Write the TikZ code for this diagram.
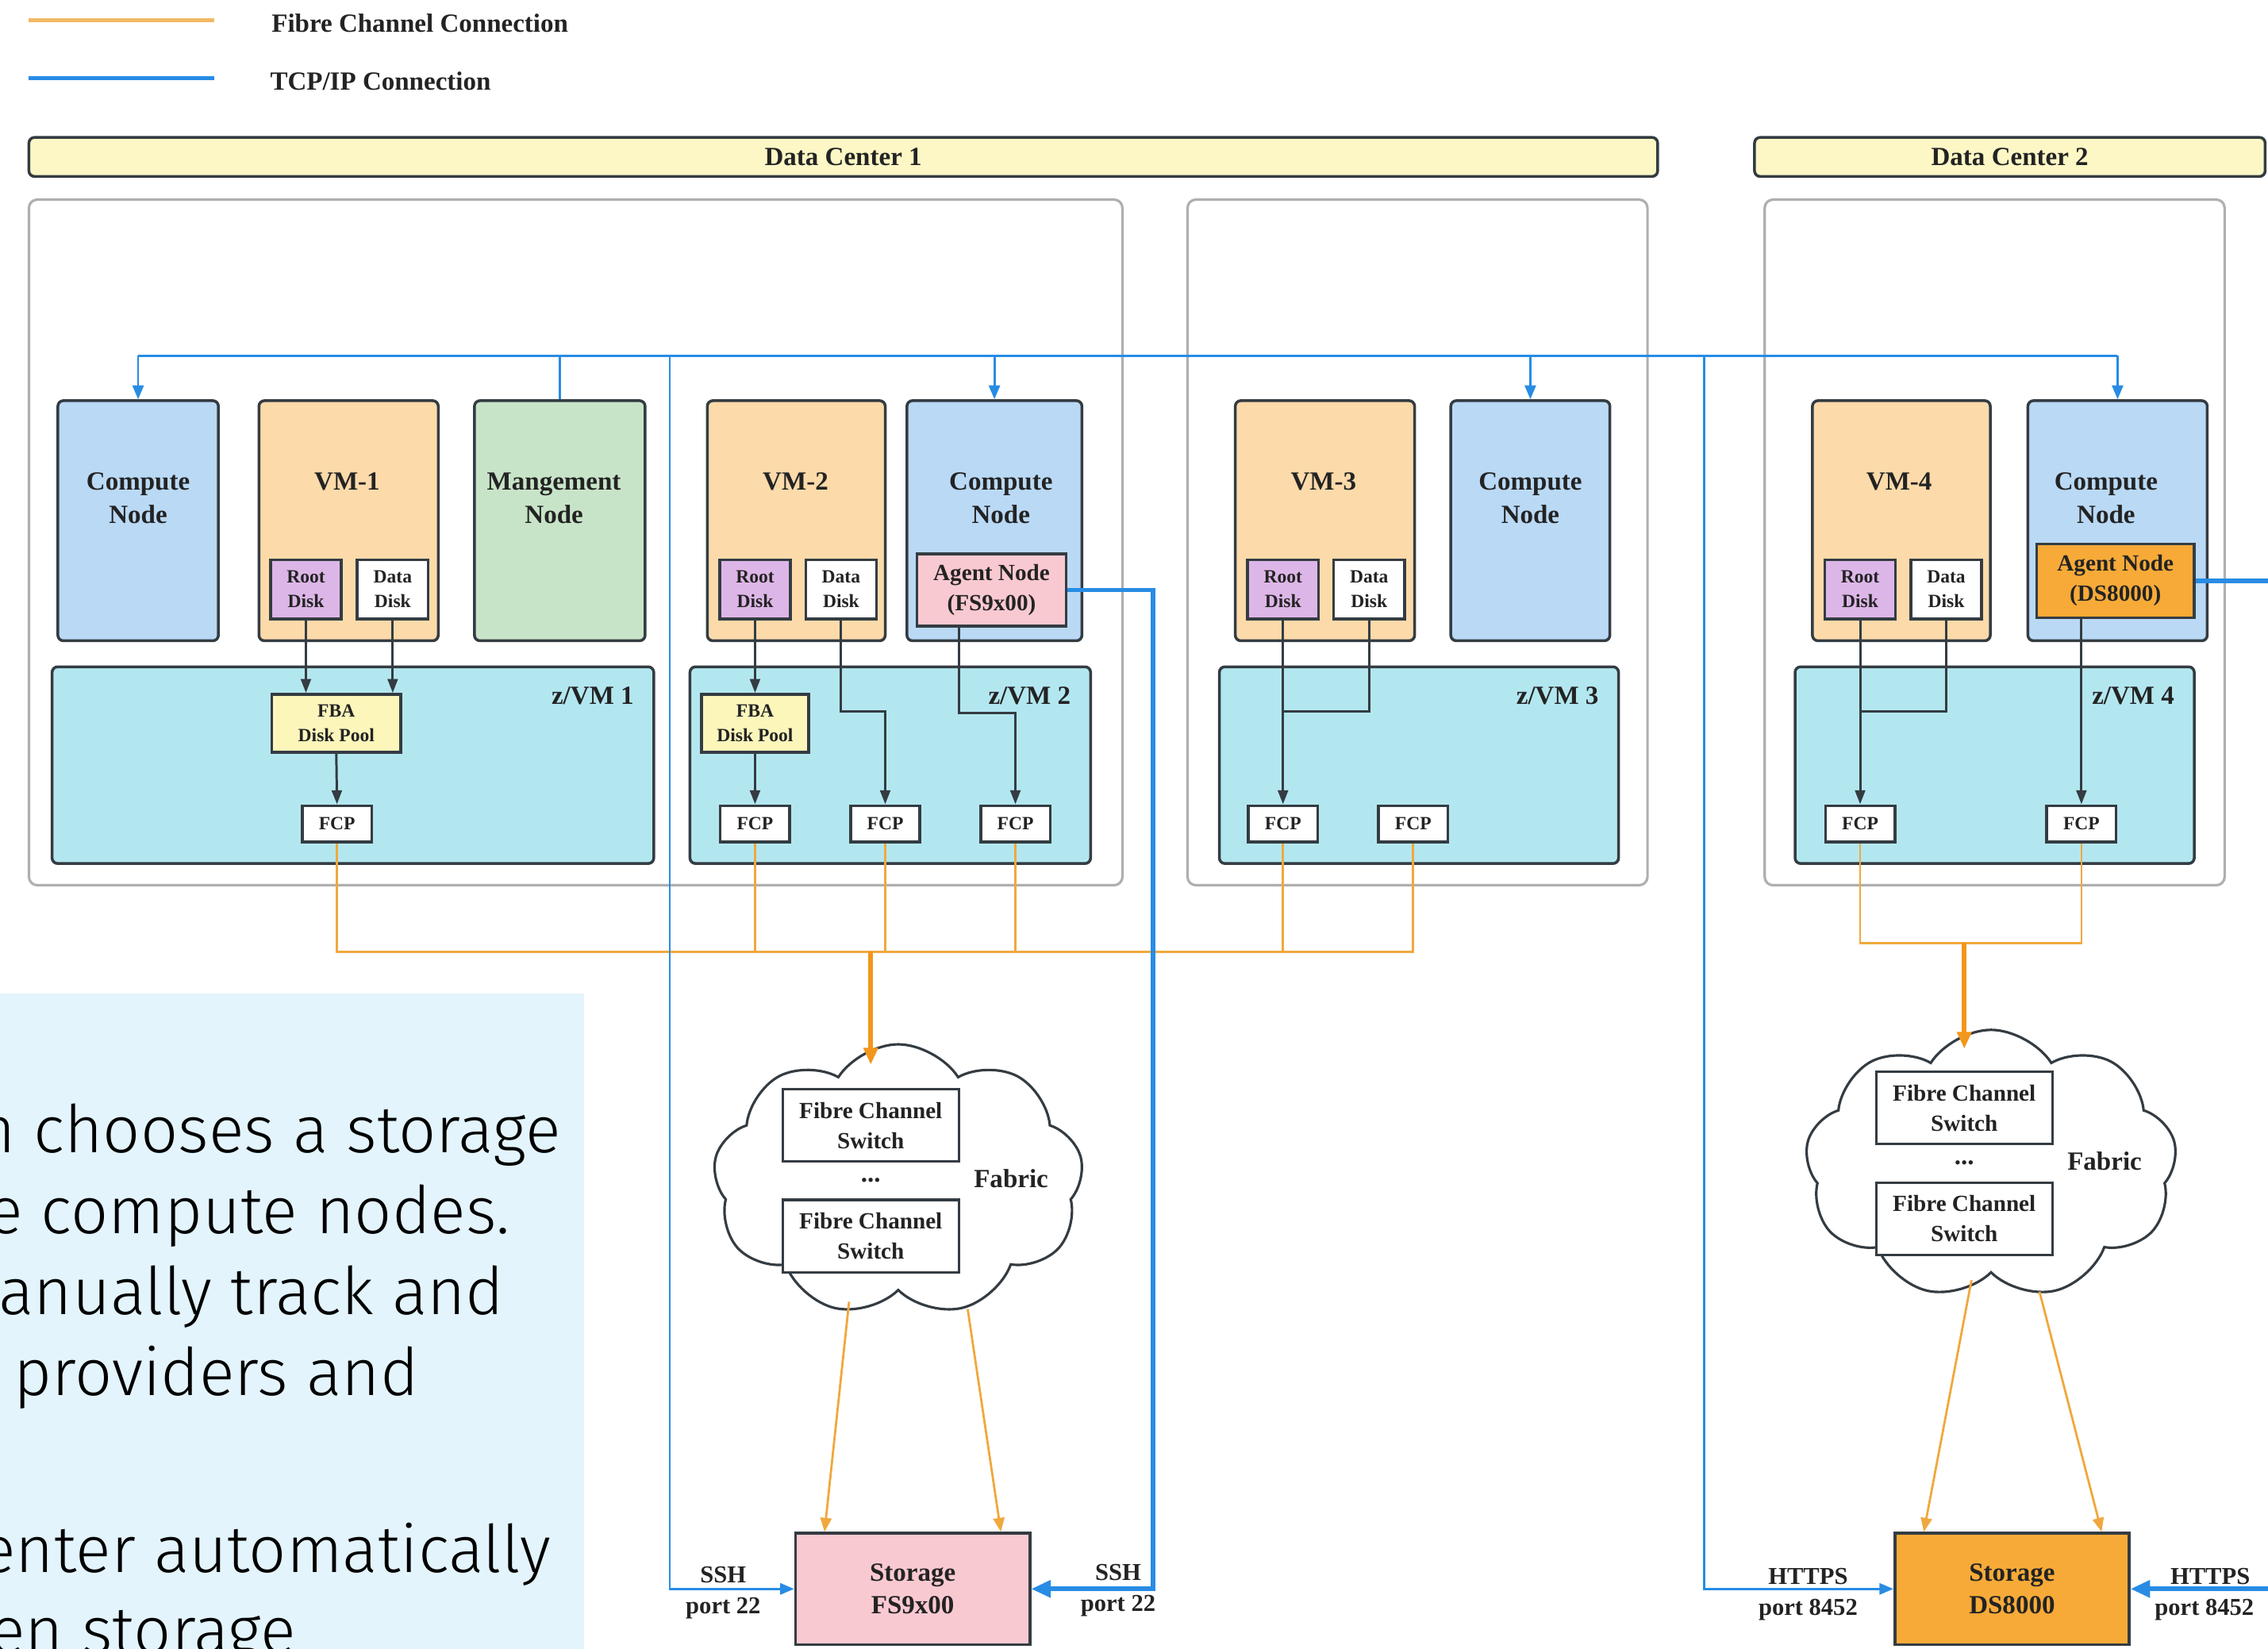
\documentclass[tikz,border=0pt]{standalone}
\usepackage{fontspec}
\setmainfont{Liberation Serif}
\newfontfamily\panelfont{Fira Sans Light}
\usetikzlibrary{arrows.meta,shapes.symbols,positioning}

% one unit = one pixel of the 1568 wide layout
\newcommand{\pxu}{0.018227cm}
\newcommand{\fmain}{\fontsize{9.4}{11.9}\selectfont\bfseries}
\newcommand{\fmid}{\fontsize{8.3}{10.8}\selectfont\bfseries}
\newcommand{\fsmall}{\fontsize{6.7}{8.8}\selectfont\bfseries}
\newcommand{\fport}{\fontsize{8.7}{11}\selectfont\bfseries}

\definecolor{edge}{RGB}{52,60,66}
\definecolor{ink}{RGB}{35,35,35}
\definecolor{cnblue}{RGB}{185,217,245}
\definecolor{vmpeach}{RGB}{252,218,170}
\definecolor{mggreen}{RGB}{200,228,200}
\definecolor{rootpurple}{RGB}{221,182,232}
\definecolor{zvmcyan}{RGB}{179,231,240}
\definecolor{fbayellow}{RGB}{252,246,187}
\definecolor{banyellow}{RGB}{253,247,197}
\definecolor{agpink}{RGB}{249,201,209}
\definecolor{dsorange}{RGB}{247,170,56}
\definecolor{fcorange}{RGB}{240,168,62}
\definecolor{fcdark}{RGB}{243,150,28}
\definecolor{tcpblue}{RGB}{40,140,228}
\definecolor{panelblue}{RGB}{227,244,252}
\definecolor{sitegray}{RGB}{175,175,175}

\tikzset{
  sz/.style 2 args={minimum width=#1*\pxu, minimum height=#2*\pxu, inner sep=0pt},
  box/.style={draw=edge, line width=1pt, rounded corners=2pt, text=ink, align=center},
  site/.style={draw=sitegray, fill=white, line width=0.9pt, rounded corners=3pt},
  banner/.style={box, fill=banyellow, font=\fmain},
  cnode/.style={box, fill=cnblue},
  vmnode/.style={box, fill=vmpeach},
  mgnode/.style={box, fill=mggreen},
  zvm/.style={box, fill=zvmcyan},
  disk/.style={box, rounded corners=0pt, sz={49}{41}, font=\fsmall},
  fcp/.style={box, rounded corners=0pt, fill=white, sz={48}{25}, font=\fsmall},
  pool/.style={box, rounded corners=0pt, fill=fbayellow, font=\fsmall},
  agent/.style={box, rounded corners=0pt, font=\fmid},
  switchbox/.style={draw=edge, line width=0.9pt, fill=white, sz={122}{50}, font=\fmid, text=ink, align=center},
  fabric/.style={cloud, draw=edge, fill=white, line width=0.9pt, cloud puffs=9, cloud puff arc=115, cloud ignores aspect},
  storage/.style={box, rounded corners=0pt, sz={162}{77}, font=\fmain},
  txt/.style={font=\fmain, text=ink, align=center},
  port/.style={font=\fport, text=ink, align=center},
  ptxt/.style={font=\panelfont\fontsize{23.6}{29}\selectfont, text=black, inner sep=0pt},
  conn/.style={draw=edge, line width=0.85pt, -{Triangle[length=5pt,width=3.6pt]}},
  tcp/.style={draw=tcpblue, line width=0.8pt},
  tcptip/.style={tcp, -{Triangle[length=5pt,width=4pt]}},
  tcpthick/.style={draw=tcpblue, line width=1.6pt, -{Triangle[length=7pt,width=6pt]}},
  fc/.style={draw=fcorange, line width=0.8pt},
  fctip/.style={fc, -{Triangle[length=5pt,width=4pt]}},
  fcthick/.style={draw=fcdark, line width=1.6pt, -{Triangle[length=6pt,width=5pt]}}
}

\begin{document}
\begin{tikzpicture}[x=\pxu, y=-\pxu]
  \clip (0,0) rectangle (1568,1140);

  % Legend
  \coordinate (lgfa) at (20,14);
  \coordinate (lgfb) at (148,14);
  \coordinate (lgta) at (20,54);
  \coordinate (lgtb) at (148,54);
  \draw[fcorange!80!white, line width=1.3pt] (lgfa) -- (lgfb);
  \draw[tcpblue, line width=1.3pt] (lgta) -- (lgtb);
  \node[txt, anchor=west] (lgf) at (181,16) {Fibre Channel Connection};
  \node[txt, anchor=west] (lgt) at (180,56) {TCP/IP Connection};

  % Data centers
  \node[banner, sz={1126}{27}] (dc1) at (583,108.5) {Data Center 1};
  \node[banner, sz={353}{27}] (dc2) at (1389.5,108.5) {Data Center 2};
  \node[site, sz={756}{474}] (siteA) at (398,375) {};
  \node[site, sz={318}{474}] (siteB) at (980,375) {};
  \node[site, sz={318}{474}] (siteC) at (1379,375) {};

  % Compute, VM and management nodes
  \node[cnode, sz={111}{166}] (cn1) at (95.5,360) {};
  \node[vmnode, sz={124}{166}] (vm1) at (241,360) {};
  \node[mgnode, sz={118}{166}] (mg) at (387,360) {};
  \node[vmnode, sz={123}{166}] (vm2) at (550.5,360) {};
  \node[cnode, sz={121}{166}] (cn2) at (687.5,360) {};
  \node[vmnode, sz={124}{166}] (vm3) at (916,360) {};
  \node[cnode, sz={110}{166}] (cn3) at (1058,360) {};
  \node[vmnode, sz={123}{166}] (vm4) at (1314.5,360) {};
  \node[cnode, sz={124}{166}] (cn4) at (1464,360) {};

  \node[txt] (tcn1) at (95.5,344.5) {Compute\\Node};
  \node[txt] (tmg) at (383,344.5) {Mangement\\Node};
  \node[txt] (tcn2) at (692,344.5) {Compute\\Node};
  \node[txt] (tcn3) at (1058,344.5) {Compute\\Node};
  \node[txt] (tcn4) at (1456,344.5) {Compute\\Node};
  \foreach \v/\x in {1/240,2/550,3/915,4/1313}
    \node[txt] (tvm\v) at (\x,333) {VM-\v};

  % Disks
  \foreach \v/\r/\d in {1/211.5/271.5, 2/522/581.5, 3/887/946.5, 4/1286/1345.5} {
    \node[disk, fill=rootpurple] (root\v) at (\r,407.5) {Root\\Disk};
    \node[disk, fill=white] (data\v) at (\d,407.5) {Data\\Disk};
  }

  % Agent nodes
  \node[agent, fill=agpink, sz={103}{50}] (ag1) at (685.5,408) {Agent Node\\(FS9x00)};
  \node[agent, fill=dsorange, sz={109}{51}] (ag2) at (1462.5,401.5) {Agent Node\\(DS8000)};

  % z/VM hosts
  \node[zvm, sz={416}{136}] (zvm1) at (244,529) {};
  \node[zvm, sz={277}{136}] (zvm2) at (615.5,529) {};
  \node[zvm, sz={276}{136}] (zvm3) at (981,529) {};
  \node[zvm, sz={276}{136}] (zvm4) at (1379,529) {};
  \foreach \v/\x in {1/445,2/747,3/1112,4/1510}
    \node[txt, anchor=east] (tzvm\v) at (\x,481) {z/VM \v};

  \node[pool, sz={89}{40}] (fba1) at (232.5,500) {FBA\\Disk Pool};
  \node[pool, sz={74}{40}] (fba2) at (522,500) {FBA\\Disk Pool};

  \foreach \n/\x in {fcp1/233, fcp2a/522, fcp2b/612, fcp2c/702, fcp3a/887, fcp3b/977, fcp4a/1286, fcp4b/1439}
    \node[fcp] (\n) at (\x,569.5) {FCP};

  % Disk paths
  \draw[conn] (root1.south) -- (root1.south |- fba1.north);
  \draw[conn] (data1.south) -- (data1.south |- fba1.north);
  \draw[conn] (fba1.south) -- (fcp1.north);
  \draw[conn] (root2.south) -- (fba2.north);
  \draw[conn] (fba2.south) -- (fcp2a.north);
  \coordinate (k2) at (581.5,492);
  \draw[conn] (data2.south) -- (k2) -| (fcp2b.north);
  \coordinate (k3) at (663,493);
  \draw[conn] (k3 |- ag1.south) -- (k3) -| (fcp2c.north);
  \draw[conn] (root3.south) -- (fcp3a.north);
  \coordinate (k4) at (946.5,492);
  \draw[draw=edge, line width=0.85pt] (data3.south) -- (k4) -- (k4 -| fcp3a);
  \draw[conn] (root4.south) -- (fcp4a.north);
  \coordinate (k5) at (1345.5,492);
  \draw[draw=edge, line width=0.85pt] (data4.south) -- (k5) -- (k5 -| fcp4a);
  \draw[conn] (ag2.south -| fcp4b) -- (fcp4b.north);

  % Fabrics
  \node[fabric, sz={256}{188}] (fab1) at (621,816) {};
  \node[fabric, sz={257}{186}] (fab2) at (1376.5,805) {};
  \node[switchbox] (sw1a) at (602,778) {Fibre Channel\\Switch};
  \node[switchbox] (sw1b) at (602,854.5) {Fibre Channel\\Switch};
  \node[txt] (dots1) at (602,816) {...};
  \node[txt] (fabt1) at (699,815) {Fabric};
  \node[switchbox] (sw2a) at (1358,766) {Fibre Channel\\Switch};
  \node[switchbox] (sw2b) at (1358,842.5) {Fibre Channel\\Switch};
  \node[txt] (dots2) at (1358,804) {...};
  \node[txt] (fabt2) at (1455,803) {Fabric};

  % Storage
  \node[storage, fill=agpink] (stor1) at (631,1098.5) {Storage\\FS9x00};
  \node[storage, fill=dsorange] (stor2) at (1391,1098.5) {Storage\\DS8000};

  % Fibre Channel connections
  \coordinate (fcbus1) at (0,658);
  \draw[fc] (fcp1.south) -- (fcp1 |- fcbus1) -- (fcp3b |- fcbus1) -- (fcp3b.south);
  \foreach \n in {fcp2a,fcp2b,fcp2c,fcp3a}
    \draw[fc] (\n.south) -- (\n |- fcbus1);
  \coordinate (fcbus2) at (0,652);
  \draw[fc] (fcp4a.south) -- (fcp4a |- fcbus2) -- (fcp4b |- fcbus2) -- (fcp4b.south);
  \coordinate (j1) at (602,658);
  \coordinate (j2) at (1358,652);
  \draw[fcthick] (j1) -- ([shift={(-19,-80)}]fab1.center);
  \draw[fcthick] (j2) -- ([shift={(-18.5,-80)}]fab2.center);
  \draw[fctip] ([shift={(-34,84)}]fab1.center) -- ([shift={(21,0)}]stor1.north west);
  \draw[fctip] ([shift={(48,89)}]fab1.center) -- ([shift={(-21,0)}]stor1.north east);
  \draw[fctip] ([shift={(-13.5,80)}]fab2.center) -- ([shift={(21,0)}]stor2.north west);
  \draw[fctip] ([shift={(33.5,88)}]fab2.center) -- ([shift={(-20,0)}]stor2.north east);

  % TCP/IP connections
  \coordinate (bus) at (0,246);
  \draw[tcp] (cn1 |- bus) -- (cn4 |- bus);
  \foreach \n in {cn1,cn2,cn3,cn4}
    \draw[tcptip] (\n |- bus) -- (\n.north);
  \draw[tcp] (mg.north) -- (mg |- bus);
  \coordinate (v1) at (463,246);
  \coordinate (v2) at (1178,246);
  \draw[tcptip] (v1) |- (stor1.west);
  \draw[tcptip] (v2) |- (stor2.west);
  \coordinate (r1) at (797,0);
  \coordinate (r2) at (1590,0);
  \draw[tcpthick] (ag1.east) -- (ag1.east -| r1) |- (stor1.east);
  \draw[tcpthick] (ag2.east) -- (ag2.east -| r2) |- (stor2.east);

  \node[port] (ssh1) at (500,1089) {SSH};
  \node[port] (pt1) at (500,1112) {port 22};
  \node[port] (ssh2) at (773,1087) {SSH};
  \node[port] (pt2) at (773,1110) {port 22};
  \node[port] (https1) at (1250,1090) {HTTPS};
  \node[port] (pt3) at (1250,1113) {port 8452};
  \node[port] (https2) at (1528,1090) {HTTPS};
  \node[port] (pt4) at (1524,1113) {port 8452};

  % Text panel
  \fill[panelblue] (0,687) rectangle (404,1140);
  \node[ptxt, anchor=base east] (pl1) at (388,797) {n chooses a storage};
  \node[ptxt, anchor=base east] (pl2) at (353,853) {e compute nodes.};
  \node[ptxt, anchor=base east] (pl3) at (349,909) {anually track and};
  \node[ptxt, anchor=base east] (pl4) at (290,965) {providers and};
  \node[ptxt, anchor=base east] (pl5) at (381,1087) {enter automatically};
  \node[ptxt, anchor=base east] (pl6) at (205,1143) {en storage};
\end{tikzpicture}
\end{document}
